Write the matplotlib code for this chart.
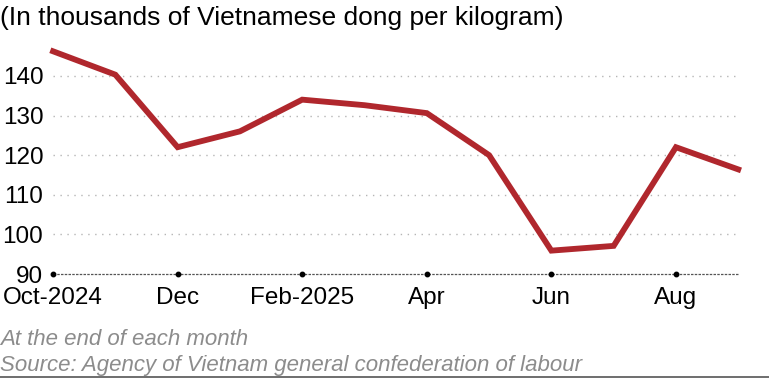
import matplotlib
matplotlib.use("Agg")
import matplotlib.pyplot as plt
from matplotlib.lines import Line2D

plt.rcParams['font.family'] = ['Liberation Sans', 'DejaVu Sans']

months = ["Oct-2024", "Nov", "Dec", "Jan", "Feb-2025", "Mar", "Apr", "May", "Jun", "Jul", "Aug", "Sep"]
prices = [146.2, 140.3, 122.0, 126.0, 134.0, 132.6, 130.6, 120.0, 95.9, 97.1, 122.0, 116.4]
tick_idx = [0, 2, 4, 6, 8, 10]
tick_labels = ["Oct-2024", "Dec", "Feb-2025", "Apr", "Jun", "Aug"]
y_ticks = [90, 100, 110, 120, 130, 140]

fig = plt.figure(figsize=(7.69, 3.79), dpi=100)
ax = fig.add_axes([0.069, 0.277, 0.891, 0.596])

x = list(range(len(months)))
ax.plot(x, prices, color="#b0272d", lw=4.2, solid_joinstyle="miter", zorder=3, clip_on=False)

ax.set_xlim(0, 11)
ax.set_ylim(90, 147)

for yv in y_ticks[1:]:
    ax.axhline(yv, color="#b5b5b5", lw=1.0, ls=(0, (1, 4)), zorder=1)
ax.axhline(90, color="#555555", lw=0.9, ls=(0, (2, 1)), zorder=2, clip_on=False)
ax.plot(tick_idx, [90] * len(tick_idx), 'o', color="black", ms=3.2, zorder=4, clip_on=False)

for s in ax.spines.values():
    s.set_visible(False)
ax.set_yticks(y_ticks)
ax.set_yticklabels([str(v) for v in y_ticks], fontsize=17.5)
ax.set_xticks(tick_idx)
ax.set_xticklabels(tick_labels, fontsize=17.5)
ax.tick_params(axis='both', length=0)
ax.tick_params(axis='y', pad=7)
ax.tick_params(axis='x', pad=9)

fig.text(0.0, 0.953, "(In thousands of Vietnamese dong per kilogram)", fontsize=19, ha='left', va='center')
fig.text(0.0, 0.105, "At the end of each month", fontsize=16, style='italic', color="#8c8c8c", ha='left', va='center')
fig.text(0.0, 0.036, "Source: Agency of Vietnam general confederation of labour", fontsize=16, style='italic', color="#8c8c8c", ha='left', va='center')
fig.add_artist(Line2D([0, 1], [0.006, 0.006], transform=fig.transFigure, color="#555555", lw=1.2))

fig.savefig("out.png", dpi=100)
